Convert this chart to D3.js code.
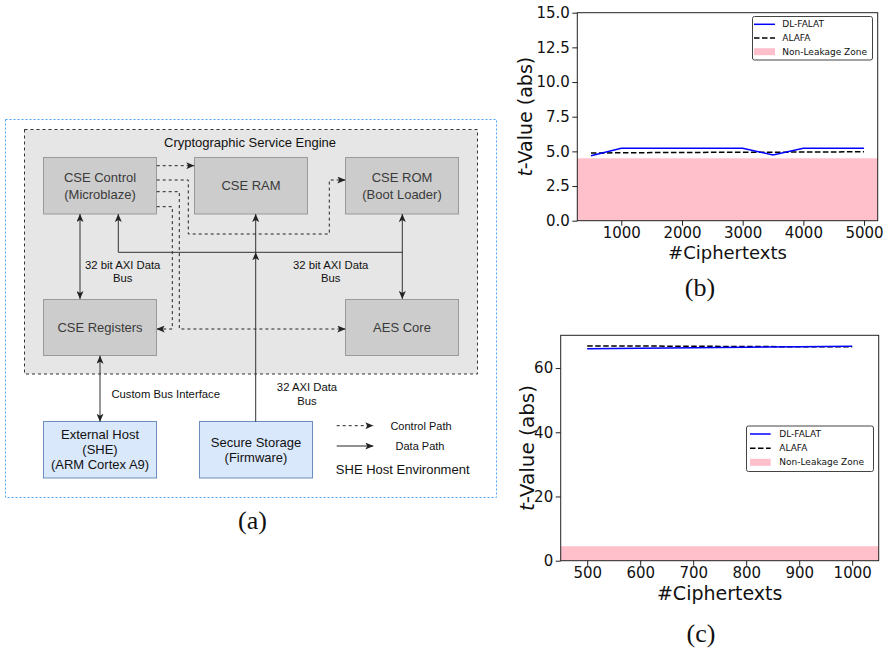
<!DOCTYPE html>
<html>
<head>
<meta charset="utf-8">
<script src="https://cdn.jsdelivr.net/npm/d3@7/dist/d3.min.js"></script>
<style>
  html, body { margin: 0; padding: 0; background: #fff; }
  svg { display: block; }
</style>
</head>
<body>
<svg id="fig" width="888" height="653"></svg>
<script>
// ---- data: panel (b) ----
const bCiphertexts = [500, 1000, 1500, 2000, 2500, 3000, 3500, 4000, 4500, 5000];
const bDlFalat     = [4.68, 5.22, 5.22, 5.22, 5.22, 5.22, 4.74, 5.22, 5.22, 5.23];
const bAlafa       = [4.88, 4.90, 4.91, 4.92, 4.93, 4.93, 4.94, 4.95, 4.96, 4.97];
const bXTicks = [1000, 2000, 3000, 4000, 5000];
const bYTicks = [0, 2.5, 5, 7.5, 10, 12.5, 15];

// ---- data: panel (c) ----
const cCiphertexts = [500, 600, 700, 800, 900, 1000];
const cDlFalat     = [66.0, 66.15, 66.3, 66.5, 66.65, 66.8];
const cAlafa       = [66.9, 66.85, 66.8, 66.7, 66.65, 66.6];
const cXTicks = [500, 600, 700, 800, 900, 1000];
const cYTicks = [0, 20, 40, 60];

// TVLA threshold: |t| below this is the non-leakage zone
const nonLeakageThreshold = 4.5;
const seriesNames = ["DL-FALAT", "ALAFA", "Non-Leakage Zone"];

const svg = d3.select("#fig");

// ================= (a) block diagram =================
const dia = svg.append("g").attr("font-family", "Liberation Sans, Arial, sans-serif");

const defs = svg.append("defs");
defs.append("marker")
  .attr("id", "arr")
  .attr("viewBox", "0 0 8 7")
  .attr("refX", 8).attr("refY", 3.5)
  .attr("markerWidth", 8).attr("markerHeight", 7)
  .attr("markerUnits", "userSpaceOnUse")
  .attr("orient", "auto-start-reverse")
  .append("path")
  .attr("d", "M0,0 L8,3.5 L0,7 L2,3.5 Z")
  .attr("fill", "#222");

// host environment frame
dia.append("rect")
  .attr("x", 5.5).attr("y", 119.5).attr("width", 491).attr("height", 378)
  .attr("fill", "#fff").attr("stroke", "#4da3ff").attr("stroke-dasharray", "2,2");

// CSE container
dia.append("rect")
  .attr("x", 24.5).attr("y", 129.5).attr("width", 453).attr("height", 244.5)
  .attr("fill", "#e6e6e6").attr("stroke", "#333").attr("stroke-dasharray", "3,3");
dia.append("text")
  .attr("x", 250).attr("y", 142).attr("text-anchor", "middle").attr("dominant-baseline", "central")
  .attr("font-size", 13).attr("fill", "#111").text("Cryptographic Service Engine");

const blocks = [
  { lines: ["CSE Control", "(Microblaze)"], x: 43.5, y: 157.5, w: 113, h: 56.5, kind: "cse" },
  { lines: ["CSE RAM"], x: 194.5, y: 157.5, w: 113, h: 56.5, kind: "cse" },
  { lines: ["CSE ROM", "(Boot Loader)"], x: 345.5, y: 157.5, w: 113, h: 56.5, kind: "cse" },
  { lines: ["CSE Registers"], x: 43.5, y: 299.5, w: 113, h: 56, kind: "cse" },
  { lines: ["AES Core"], x: 345.5, y: 299.5, w: 113, h: 56, kind: "cse" },
  { lines: ["External Host", "(SHE)", "(ARM Cortex A9)"], x: 43.5, y: 421.5, w: 113, h: 56.5, kind: "host" },
  { lines: ["Secure Storage", "(Firmware)"], x: 199.5, y: 421.5, w: 113, h: 56.5, kind: "host" }
];

const bg = dia.selectAll("g.block").data(blocks).join("g").attr("class", "block");
bg.append("rect")
  .attr("x", d => d.x).attr("y", d => d.y).attr("width", d => d.w).attr("height", d => d.h)
  .attr("fill", d => d.kind === "cse" ? "#cccccc" : "#dae8fc")
  .attr("stroke", d => d.kind === "cse" ? "#9a9a9a" : "#6c8ebf");
bg.each(function(d) {
  const g = d3.select(this);
  const lh = d.kind === "cse" ? 16.5 : 14.8;
  const cy = d.y + d.h / 2;
  d.lines.forEach((t, i) => {
    g.append("text")
      .attr("x", d.x + d.w / 2)
      .attr("y", cy + (i - (d.lines.length - 1) / 2) * lh)
      .attr("text-anchor", "middle").attr("dominant-baseline", "central")
      .attr("font-size", 13)
      .attr("fill", d.kind === "cse" ? "#3a3a3a" : "#111")
      .text(t);
  });
});

// control (dashed) and data (solid) connections
const dashed = [
  "M156.7,165.7 H194.3",
  "M156.7,180 H188.3 V234 H329.3 V180 H345.3",
  "M156.7,191.7 H179.3 V329 H345.3",
  "M156.7,206.7 H172.3 V329 H156.7"
];
dia.selectAll("path.ctl").data(dashed).join("path").attr("class", "ctl")
  .attr("d", d => d).attr("fill", "none").attr("stroke", "#222")
  .attr("stroke-dasharray", "3,3").attr("marker-end", "url(#arr)");

const solid = [
  { d: "M80,214 V299", s: true, e: true },
  { d: "M402.3,252.3 H118.3 V214", s: false, e: true },
  { d: "M402.3,214 V299", s: true, e: true },
  { d: "M255.7,252.3 V214", s: false, e: true },
  { d: "M255.7,421.7 V252.3", s: false, e: true },
  { d: "M100,355.7 V421.7", s: true, e: true }
];
dia.selectAll("path.dat").data(solid).join("path").attr("class", "dat")
  .attr("d", d => d.d).attr("fill", "none").attr("stroke", "#333")
  .attr("marker-start", d => d.s ? "url(#arr)" : null)
  .attr("marker-end", d => d.e ? "url(#arr)" : null);

const notes = [
  { lines: ["32 bit AXI Data", "Bus"], x: 122.7, y: 264.5 },
  { lines: ["32 bit AXI Data", "Bus"], x: 330.7, y: 264.5 },
  { lines: ["Custom Bus Interface"], x: 165.7, y: 394.3 },
  { lines: ["32 AXI Data", "Bus"], x: 307, y: 387.3 }
];
notes.forEach(n => n.lines.forEach((t, i) => {
  dia.append("text").attr("x", n.x).attr("y", n.y + i * 13.5)
    .attr("text-anchor", "middle").attr("dominant-baseline", "central")
    .attr("font-size", 11.3).attr("fill", "#111").text(t);
}));

// path legend
dia.append("path").attr("d", "M336.7,425.7 H373.3").attr("stroke", "#222")
  .attr("stroke-dasharray", "3,3").attr("marker-end", "url(#arr)");
dia.append("path").attr("d", "M336.7,446 H373.3").attr("stroke", "#222")
  .attr("marker-end", "url(#arr)");
dia.append("text").attr("x", 421).attr("y", 425.7).attr("text-anchor", "middle")
  .attr("dominant-baseline", "central").attr("font-size", 11).attr("fill", "#111").text("Control Path");
dia.append("text").attr("x", 420).attr("y", 446).attr("text-anchor", "middle")
  .attr("dominant-baseline", "central").attr("font-size", 11).attr("fill", "#111").text("Data Path");
dia.append("text").attr("x", 402.7).attr("y", 469.3).attr("text-anchor", "middle")
  .attr("dominant-baseline", "central").attr("font-size", 13).attr("fill", "#111").text("SHE Host Environment");

// ================= line charts =================
function tChart(cfg) {
  const g = svg.append("g").attr("font-family", "DejaVu Sans, sans-serif");
  const x = d3.scaleLinear().domain(cfg.xDomain).range([cfg.left, cfg.right]);
  const y = d3.scaleLinear().domain(cfg.yDomain).range([cfg.bottom, cfg.top]);

  // non-leakage zone
  g.append("rect")
    .attr("x", x(cfg.xDomain[0])).attr("width", x(cfg.xDomain[1]) - x(cfg.xDomain[0]))
    .attr("y", y(nonLeakageThreshold)).attr("height", y(0) - y(nonLeakageThreshold))
    .attr("fill", "#ffc0cb");

  const line = d3.line().x(d => x(d[0])).y(d => y(d[1]));
  g.append("path").datum(cfg.xs.map((v, i) => [v, cfg.alafa[i]]))
    .attr("d", line).attr("fill", "none").attr("stroke", "#000")
    .attr("stroke-width", 1.5).attr("stroke-dasharray", "5.5,2.5");
  g.append("path").datum(cfg.xs.map((v, i) => [v, cfg.dl[i]]))
    .attr("d", line).attr("fill", "none").attr("stroke", "#0000ff").attr("stroke-width", 1.5);

  // frame
  g.append("rect").attr("x", cfg.left).attr("y", cfg.top)
    .attr("width", cfg.right - cfg.left).attr("height", cfg.bottom - cfg.top)
    .attr("fill", "none").attr("stroke", "#222").attr("stroke-width", 1);

  const xa = g.append("g").attr("transform", `translate(0,${cfg.bottom})`)
    .call(d3.axisBottom(x).tickValues(cfg.xTicks).tickSize(5).tickPadding(2).tickFormat(d3.format("d")));
  const ya = g.append("g").attr("transform", `translate(${cfg.left},0)`)
    .call(d3.axisLeft(y).tickValues(cfg.yTicks).tickSize(5).tickPadding(2.5).tickFormat(cfg.yFormat));
  [xa, ya].forEach(a => {
    a.select(".domain").remove();
    a.selectAll("line").attr("stroke", "#222");
    a.selectAll("text").attr("font-size", 15).attr("fill", "#111").attr("font-family", "DejaVu Sans, sans-serif");
  });

  g.append("text").attr("x", (cfg.left + cfg.right) / 2).attr("y", cfg.xLabelY)
    .attr("text-anchor", "middle").attr("font-size", cfg.xLabelSize).attr("fill", "#111")
    .text("#Ciphertexts");
  const yl = g.append("text")
    .attr("transform", `translate(${cfg.yLabelX},${(cfg.top + cfg.bottom) / 2}) rotate(-90)`)
    .attr("text-anchor", "middle").attr("dominant-baseline", "central")
    .attr("font-size", cfg.yLabelSize).attr("fill", "#111");
  yl.append("tspan").attr("font-style", "italic").text("t");
  yl.append("tspan").text("-Value (abs)");

  // legend
  const L = cfg.legend;
  const lg = g.append("g");
  lg.append("rect").attr("x", L.x0).attr("y", L.y0).attr("width", L.x1 - L.x0).attr("height", L.y1 - L.y0)
    .attr("rx", 2).attr("fill", "#fff").attr("stroke", "#444").attr("stroke-width", 1);
  L.rows.forEach((ry, i) => {
    if (i === 0) lg.append("line").attr("x1", L.lx0).attr("x2", L.lx1).attr("y1", ry).attr("y2", ry)
      .attr("stroke", "#0000ff").attr("stroke-width", 1.5);
    if (i === 1) lg.append("line").attr("x1", L.lx0).attr("x2", L.lx1).attr("y1", ry).attr("y2", ry)
      .attr("stroke", "#000").attr("stroke-width", 1.5).attr("stroke-dasharray", "5.5,2.5");
    if (i === 2) lg.append("rect").attr("x", L.lx0).attr("y", ry - 3.5).attr("width", L.lx1 - L.lx0)
      .attr("height", 7).attr("fill", "#ffc0cb");
    lg.append("text").attr("x", L.tx).attr("y", ry).attr("dominant-baseline", "central")
      .attr("font-size", 9).attr("fill", "#111").text(seriesNames[i]);
  });

  svg.append("text").attr("x", cfg.capX).attr("y", cfg.capY).attr("text-anchor", "middle")
    .attr("font-family", "Liberation Serif, DejaVu Serif, serif").attr("font-size", 26).attr("fill", "#111")
    .text(cfg.caption);
}

tChart({
  xs: bCiphertexts, dl: bDlFalat, alafa: bAlafa,
  xDomain: [275, 5225], yDomain: [0, 15],
  left: 577.3, right: 877.7, top: 12.7, bottom: 220.7,
  xTicks: bXTicks, yTicks: bYTicks, yFormat: d3.format(".1f"),
  xLabelY: 258.5, xLabelSize: 18, yLabelX: 525, yLabelSize: 19,
  legend: { x0: 752.5, x1: 872.5, y0: 16.5, y1: 60, lx0: 754, lx1: 775, tx: 782.3, rows: [24.3, 38, 51.7] },
  caption: "(b)", capX: 700, capY: 296
});

tChart({
  xs: cCiphertexts, dl: cDlFalat, alafa: cAlafa,
  xDomain: [450, 1050], yDomain: [0, 70.2],
  left: 560.7, right: 878.7, top: 335.3, bottom: 560.7,
  xTicks: cXTicks, yTicks: cYTicks, yFormat: d3.format("d"),
  xLabelY: 600, xLabelSize: 19, yLabelX: 527, yLabelSize: 20,
  legend: { x0: 746.5, x1: 873.5, y0: 426, y1: 471.5, lx0: 750, lx1: 770.7, tx: 779.3, rows: [434, 448.3, 462.3] },
  caption: "(c)", capX: 701, capY: 642
});

dia.append("text").attr("x", 252.5).attr("y", 529).attr("text-anchor", "middle")
  .attr("font-family", "Liberation Serif, DejaVu Serif, serif").attr("font-size", 26).attr("fill", "#111")
  .text("(a)");
</script>
</body>
</html>
